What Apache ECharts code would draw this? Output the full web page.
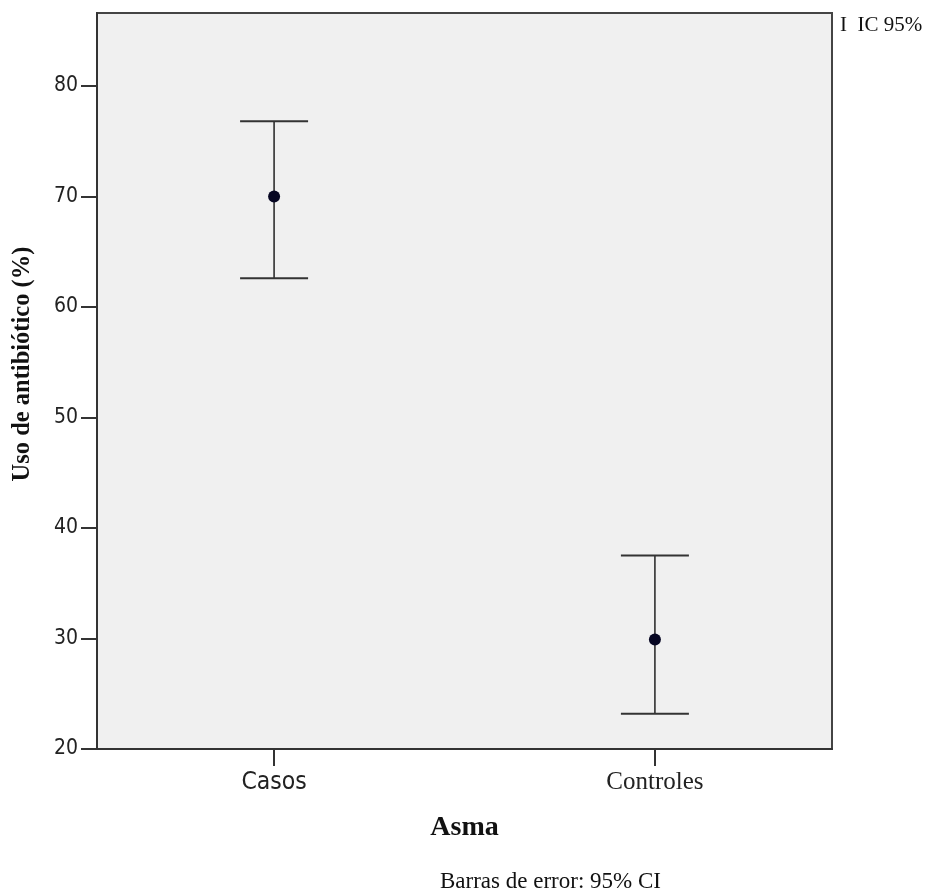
<!DOCTYPE html>
<html>
<head>
<meta charset="utf-8">
<script src="https://cdn.jsdelivr.net/npm/echarts@6/dist/echarts.min.js"></script>
<style>html,body{margin:0;padding:0;background:#fff;}#main{width:928px;height:892px;}</style>
</head>
<body>
<div id="main"></div>
<script>
var categories = ['Casos', 'Controles'];
var means = [70.0, 29.9];
var lower = [62.6, 23.2];
var upper = [76.8, 37.5];
var yTicks = [20, 30, 40, 50, 60, 70, 80];
var catPos = [1, 2];

var chart = echarts.init(document.getElementById('main'));
var serif = '"Liberation Serif", "Times New Roman", serif';
var sansN = '"DejaVu Sans Condensed", "Liberation Sans Narrow", sans-serif';

chart.setOption({
  animation: false,
  backgroundColor: '#fff',
  grid: {
    left: 97, top: 13, right: 96, bottom: 143,
    show: true, backgroundColor: '#f0f0f0', borderColor: '#444', borderWidth: 2
  },
  xAxis: {
    type: 'value', min: 0.535, max: 2.465,
    name: 'Asma', nameLocation: 'middle', nameGap: 65,
    nameTextStyle: { fontFamily: serif, fontWeight: 'bold', fontSize: 28, color: '#111' },
    splitLine: { show: false },
    axisLine: { show: true, lineStyle: { color: '#333', width: 2 } },
    axisTick: { show: true, length: 17, customValues: catPos, lineStyle: { color: '#333', width: 2 } },
    axisLabel: {
      customValues: catPos, margin: 21,
      formatter: function (v) {
        var i = catPos.indexOf(v);
        if (i < 0) return '';
        return i === 0 ? '{s|' + categories[i] + '}' : '{r|' + categories[i] + '}';
      },
      rich: {
        s: { fontFamily: sansN, fontSize: 24.5, color: '#222' },
        r: { fontFamily: serif, fontSize: 25, color: '#222' }
      }
    }
  },
  yAxis: {
    type: 'value', min: 20, max: 86.6,
    splitLine: { show: false },
    axisLine: { show: true, lineStyle: { color: '#333', width: 2 } },
    axisTick: { show: true, length: 16, customValues: yTicks, lineStyle: { color: '#333', width: 2 } },
    axisLabel: {
      customValues: yTicks, margin: 19,
      fontFamily: sansN, fontSize: 21, color: '#222'
    }
  },
  series: [
    {
      type: 'custom',
      data: catPos.map(function (p, i) { return [p, lower[i], upper[i]]; }),
      renderItem: function (params, api) {
        var x = api.value(0);
        var lo = api.coord([x, api.value(1)]);
        var hi = api.coord([x, api.value(2)]);
        var half = 34;
        return {
          type: 'group',
          children: [
            { type: 'line', shape: { x1: lo[0], y1: lo[1], x2: hi[0], y2: hi[1] }, style: { stroke: '#222', lineWidth: 1.5 } },
            { type: 'line', shape: { x1: lo[0] - half, y1: lo[1], x2: lo[0] + half, y2: lo[1] }, style: { stroke: '#333', lineWidth: 2 } },
            { type: 'line', shape: { x1: hi[0] - half, y1: hi[1], x2: hi[0] + half, y2: hi[1] }, style: { stroke: '#333', lineWidth: 2 } }
          ]
        };
      },
      z: 2
    },
    {
      type: 'scatter',
      data: catPos.map(function (p, i) { return [p, means[i]]; }),
      symbol: 'circle', symbolSize: 12,
      itemStyle: { color: '#060622', opacity: 1 },
      z: 3
    }
  ],
  graphic: [
    {
      type: 'text', x: 23, y: 364, rotation: Math.PI / 2,
      style: { text: 'Uso de antibiótico (%)', fontFamily: serif, fontWeight: 'bold', fontSize: 24.5, fill: '#111', align: 'center', verticalAlign: 'middle' }
    },
    {
      type: 'text', left: 840, top: 15,
      style: { text: 'I  IC 95%', fontFamily: serif, fontSize: 21, fill: '#111' }
    },
    {
      type: 'text', left: 440, top: 870,
      style: { text: 'Barras de error: 95% CI', fontFamily: serif, fontSize: 23, fill: '#111' }
    }
  ]
});
</script>
</body>
</html>
